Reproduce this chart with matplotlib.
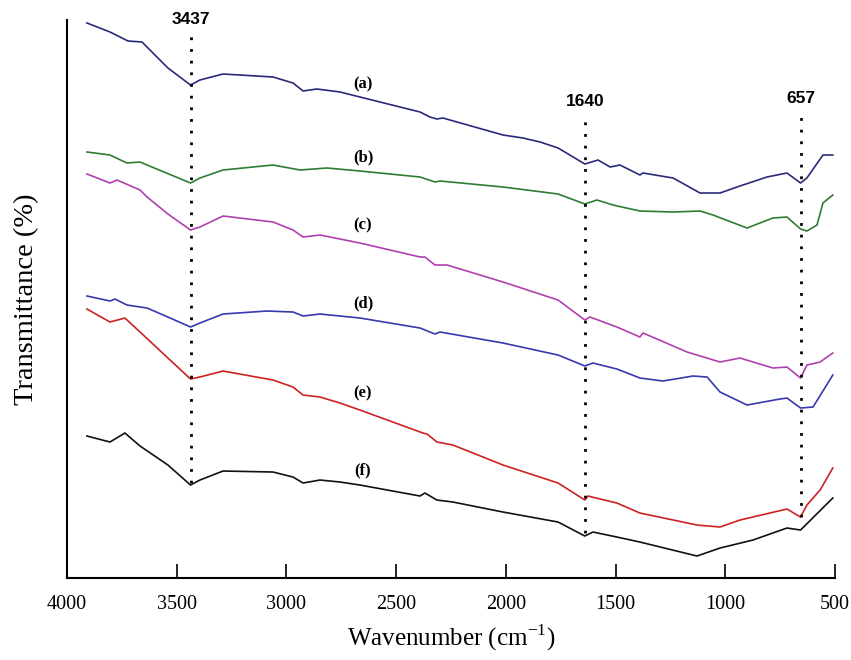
import numpy as np
import matplotlib.pyplot as plt

# FTIR spektrumlari (okunan degerler, keyfi birim)
wn_a = [3909, 3804, 3722, 3658, 3631, 3540, 3437, 3394, 3289, 3061, 2970, 2924, 2861, 2756, 2665, 2391, 2346,
        2314, 2287, 2013, 1922, 1844, 1762, 1640, 1580, 1525, 1480, 1389, 1375, 1238, 1115, 1024, 933, 810, 719,
        657, 628, 555, 510]
t_a = [555, 546, 537, 536, 530, 510, 493, 498, 504, 501, 495, 487, 489, 486, 481, 466, 461,
       459, 460, 443, 440, 436, 430, 414, 418, 411, 413, 403, 405, 400, 385, 385, 392, 401, 405,
       395, 400, 423, 423]

wn_b = [3909, 3804, 3727, 3667, 3635, 3437, 3394, 3289, 3061, 2938, 2815, 2665, 2391, 2323, 2300, 2013, 1762,
        1640, 1585, 1512, 1389, 1238, 1115, 1056, 901, 783, 719, 657, 628, 582, 555, 510]
t_b = [426, 423, 415, 416, 413, 395, 400, 408, 413, 408, 410, 407, 401, 396, 397, 391, 384,
       374, 378, 373, 367, 366, 367, 363, 350, 360, 361, 349, 347, 353, 375, 383]

wn_c = [3909, 3804, 3772, 3667, 3635, 3540, 3437, 3394, 3289, 3061, 2970, 2924, 2847, 2665, 2391, 2369, 2323,
        2268, 2013, 1762, 1640, 1617, 1494, 1389, 1375, 1174, 1024, 933, 783, 719, 657, 628, 568, 510]
t_c = [404, 395, 398, 388, 381, 364, 348, 351, 362, 356, 348, 341, 343, 335, 321, 321, 313,
       313, 296, 278, 258, 261, 251, 241, 245, 226, 216, 220, 210, 211, 200, 213, 216, 225]

wn_d = [3909, 3804, 3781, 3727, 3635, 3540, 3437, 3394, 3289, 3089, 2970, 2924, 2847, 2756, 2665, 2391, 2323,
        2300, 2013, 1762, 1640, 1603, 1494, 1389, 1284, 1147, 1083, 1024, 901, 751, 719, 657, 600, 510]
t_d = [282, 277, 279, 273, 270, 261, 251, 255, 264, 267, 266, 262, 264, 262, 260, 250, 244,
       246, 235, 223, 212, 215, 209, 200, 197, 202, 201, 186, 173, 179, 180, 170, 171, 203]

wn_e = [3909, 3804, 3736, 3667, 3540, 3437, 3394, 3289, 3061, 2970, 2924, 2847, 2756, 2665, 2378, 2359, 2314,
        2241, 2013, 1762, 1640, 1626, 1494, 1389, 1129, 1024, 933, 719, 657, 628, 568, 510]
t_e = [269, 256, 260, 246, 220, 199, 201, 207, 198, 191, 183, 181, 175, 168, 145, 144, 136,
       133, 113, 95, 78, 82, 75, 65, 53, 51, 58, 69, 61, 73, 88, 110]

wn_f = [3909, 3804, 3736, 3667, 3540, 3437, 3394, 3289, 3061, 2970, 2924, 2847, 2756, 2665, 2391, 2369, 2314,
        2241, 2013, 1762, 1640, 1603, 1494, 1389, 1129, 1024, 874, 719, 657, 510]
t_f = [142, 136, 145, 132, 113, 93, 98, 107, 106, 101, 95, 98, 96, 93, 82, 85, 78,
       76, 66, 56, 42, 46, 41, 36, 22, 30, 38, 50, 48, 80]

etiketler = ['(a)', '(b)', '(c)', '(d)', '(e)', '(f)']
renkler = ['#2b2a7a', '#2e7d32', '#b040b0', '#3838b0', '#cc2222', '#111111']
etiket_y = [494, 421, 353, 275, 185, 108]

piklar = [3437, 1640, 657]
pik_ust = [548, 461, 468]
pik_alt = [95, 45, 61]
pik_yazi_y = [558, 477, 480]

fig = plt.figure(figsize=(8.51, 6.6), dpi=100)
ax = fig.add_axes([0.0787, 0.1242, 0.9025, 0.8455])

seriler = [(wn_a, t_a), (wn_b, t_b), (wn_c, t_c), (wn_d, t_d), (wn_e, t_e), (wn_f, t_f)]
for (w, t), r in zip(seriler, renkler):
    ax.plot(w, t, color=r, lw=1.2)

for lab, yy in zip(etiketler, etiket_y):
    ax.text(2651, yy, lab, ha='center', va='center', fontsize=12, fontweight='bold',
            family='Liberation Serif')

for p, u, a, yy in zip(piklar, pik_ust, pik_alt, pik_yazi_y):
    ax.plot([p, p], [a, u], color='black', lw=2, linestyle=(0, (1, 3.2)))
    ax.text(p, yy, str(p), ha='center', va='center', fontsize=12.5, fontweight='bold',
            family='Liberation Sans', clip_on=False)

ax.set_xlim(4000, 500)
ax.set_ylim(0, 558)
ax.set_xticks(np.arange(4000, 499, -500))
ax.set_yticks([])
ax.tick_params(axis='x', direction='in', length=10, width=1.2, pad=12, labelsize=14.5)
for lbl in ax.get_xticklabels():
    lbl.set_family('Liberation Serif')
ax.spines['top'].set_visible(False)
ax.spines['right'].set_visible(False)
ax.spines['left'].set_linewidth(1.5)
ax.spines['bottom'].set_linewidth(1.5)

ax.set_xlabel('Wavenumber (cm$^{\\mathregular{-1}}$)', fontsize=18, family='Liberation Serif', labelpad=6)
ax.set_ylabel('Transmittance (%)', fontsize=20.5, family='Liberation Serif', labelpad=20)

plt.savefig('out.png', dpi=100)
